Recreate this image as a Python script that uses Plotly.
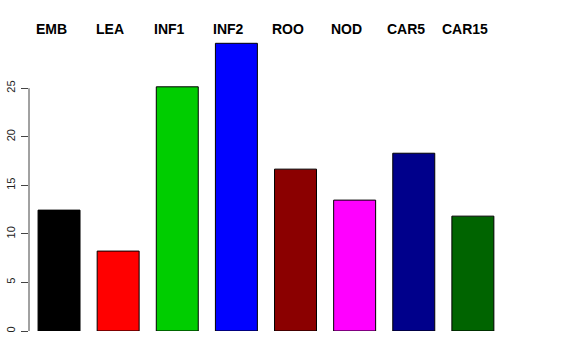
import plotly.graph_objects as go

categories = ["EMB", "LEA", "INF1", "INF2", "ROO", "NOD", "CAR5", "CAR15"]
values = [12.45, 8.23, 25.15, 29.63, 16.67, 13.48, 18.31, 11.83]
colors = ["#000000", "#FF0000", "#00CD00", "#0000FF", "#8B0000", "#FF00FF", "#00008B", "#006400"]
y_ticks = [0, 5, 10, 15, 20, 25]

xpos = list(range(len(categories)))

fig = go.Figure()
fig.add_trace(go.Bar(
    x=xpos, y=values, width=0.71,
    marker=dict(color=colors, line=dict(color="#000000", width=1)),
    hoverinfo="skip",
))

for i, c in enumerate(categories):
    fig.add_annotation(x=i, y=1, xref="x", yref="paper", yanchor="middle",
                       xshift=-8, yshift=1, text="<b>%s</b>" % c, showarrow=False,
                       font=dict(family="Liberation Sans, Arial, sans-serif", size=14, color="#000000"))

fig.add_shape(type="line", xref="paper", yref="y", x0=0, x1=0, y0=0, y1=25,
              line=dict(color="#444444", width=1))

fig.update_layout(
    width=576, height=360,
    margin=dict(l=29, r=44, t=30, b=29, autoexpand=False),
    paper_bgcolor="white", plot_bgcolor="white",
    showlegend=False,
    xaxis=dict(range=[-0.508, 8.0], showgrid=False, zeroline=False, showline=False,
               showticklabels=False, ticks="", automargin=False),
    yaxis=dict(range=[0, 31], tickvals=y_ticks, ticktext=[str(v) for v in y_ticks],
               showgrid=False, zeroline=False, showline=False, automargin=False,
               ticks="outside", ticklen=7, tickcolor="#444444", tickwidth=1,
               tickangle=-90, ticklabelstandoff=2,
               tickfont=dict(family="Liberation Sans, Arial, sans-serif", size=11, color="#222222")),
)

fig.write_html("out.html", config={"displayModeBar": False},
               post_script="document.body.style.margin='0';document.body.style.overflow='hidden';")
